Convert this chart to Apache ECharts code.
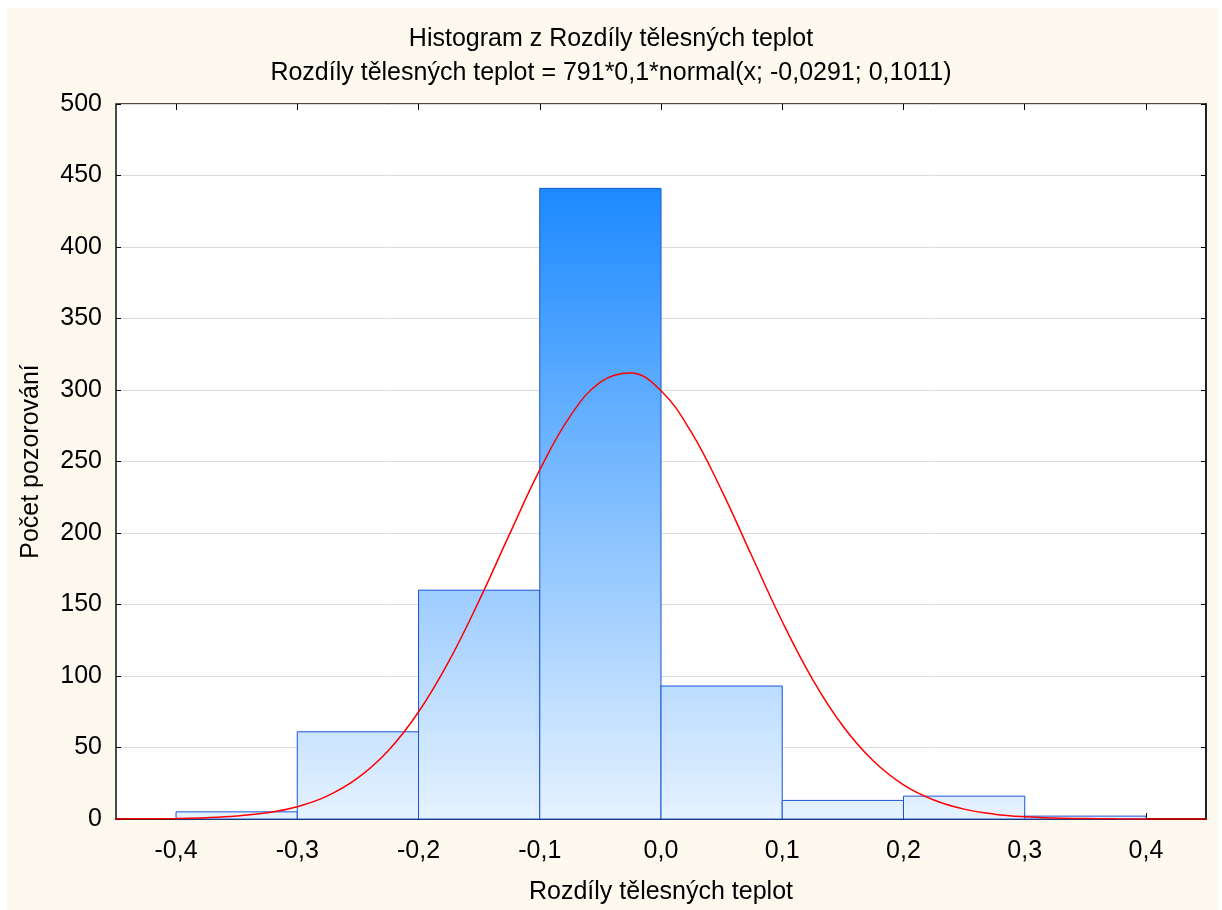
<!DOCTYPE html>
<html>
<head>
<meta charset="utf-8">
<script src="https://cdn.jsdelivr.net/npm/echarts@6/dist/echarts.min.js"></script>
<style>
html,body{margin:0;padding:0;background:#ffffff;overflow:hidden;}
#wrap{position:absolute;left:7px;top:8px;width:1211px;height:902px;background:#fef9ef;}
#chart{position:absolute;left:0;top:0;width:1222px;height:910px;}
</style>
</head>
<body>
<div id="wrap"></div>
<div id="chart"></div>
<script>
// ---- data ----
const titleText = "Histogram z Rozdíly tělesných teplot";
const subtitleText = "Rozdíly tělesných teplot = 791*0,1*normal(x; -0,0291; 0,1011)";
const xAxisName = "Rozdíly tělesných teplot";
const yAxisName = "Počet pozorování";
const binStarts = [-0.4, -0.3, -0.2, -0.1, 0.0, 0.1, 0.2, 0.3];
const binEnds   = [-0.3, -0.2, -0.1, 0.0, 0.1, 0.2, 0.3, 0.4];
const counts    = [5, 61, 160, 441, 93, 13, 16, 2];
const xTicks = [-0.4, -0.3, -0.2, -0.1, 0.0, 0.1, 0.2, 0.3, 0.4];
const curveX = [-0.45,-0.425,-0.4,-0.375,-0.35,-0.325,-0.3,-0.275,-0.25,-0.225,-0.2,-0.175,-0.15,-0.125,-0.1,-0.075,-0.05,-0.025,0,0.025,0.05,0.075,0.1,0.125,0.15,0.175,0.2,0.225,0.25,0.275,0.3,0.325,0.35,0.375,0.4,0.425,0.45];
const curveY = [0.05,0.15,0.37,0.89,2.03,4.3,8.6,16.2,28.7,47.7,74.8,110.2,152.7,199.0,244.1,281.6,305.5,311.9,299.5,270.5,229.8,183.7,138.1,97.7,65.0,40.7,23.9,13.3,6.9,3.4,1.56,0.68,0.28,0.11,0.04,0.01,0.0];

const X_MIN = -0.4495, X_MAX = 0.4495;
const fmt = v => (Math.round(v*10)/10).toFixed(1).replace('.', ',');

const chart = echarts.init(document.getElementById('chart'), null, {renderer:'canvas', width: 1222, height: 910});
const barData = binStarts.map((s,i)=>[s, binEnds[i], counts[i]]);
const curveData = curveX.map((x,i)=>[x, curveY[i]]);
const maxCount = Math.max(...counts);
const font = 'Liberation Sans, Arial, sans-serif';
const FS = 25;

const option = {
  backgroundColor: 'transparent',
  animation: false,
  title: {
    text: titleText,
    subtext: subtitleText,
    left: 'center',
    top: 20,
    itemGap: 6,
    textStyle: {fontFamily: font, fontSize: FS, fontWeight: 'normal', color: '#000', lineHeight: 28},
    subtextStyle: {fontFamily: font, fontSize: FS, color: '#000', lineHeight: 28}
  },
  grid: {left: 116, right: 16, top: 104, bottom: 87, show: true, backgroundColor: '#fff', borderColor: '#111', borderWidth: 1.5, containLabel: false},
  xAxis: [{
    type: 'value', min: X_MIN, max: X_MAX,
    name: xAxisName, nameLocation: 'middle', nameGap: 61,
    nameTextStyle: {fontFamily: font, fontSize: FS, color: '#000'},
    axisLine: {show: true, onZero: false, lineStyle: {color: '#222', width: 2}},
    splitLine: {show: false},
    axisTick: {show: true, inside: true, length: 6, lineStyle: {color: '#000'}, customValues: xTicks},
    axisLabel: {fontFamily: font, fontSize: FS, color: '#000', margin: 20, customValues: xTicks, formatter: fmt}
  },{
    type: 'value', min: X_MIN, max: X_MAX, position: 'top',
    axisLine: {show: false, onZero: false}, splitLine: {show: false},
    axisTick: {show: true, inside: true, length: 6, lineStyle: {color: '#000'}, customValues: xTicks},
    axisLabel: {show: false}
  }],
  yAxis: [{
    type: 'value', min: 0, max: 500, interval: 50,
    name: yAxisName, nameLocation: 'middle', nameGap: 72, nameRotate: 90,
    nameTextStyle: {fontFamily: font, fontSize: FS, color: '#000'},
    axisLine: {show: false, onZero: false},
    splitLine: {show: true, lineStyle: {color: '#dcdcdc', width: 1}},
    axisTick: {show: true, inside: true, length: 5, lineStyle: {color: '#000'}},
    axisLabel: {fontFamily: font, fontSize: FS, color: '#000', margin: 14}
  },{
    type: 'value', min: 0, max: 500, interval: 50, position: 'right',
    axisLine: {show: true, onZero: false, lineStyle: {color: '#222', width: 2}}, splitLine: {show: false},
    axisTick: {show: true, inside: true, length: 5, lineStyle: {color: '#000'}},
    axisLabel: {show: false}
  }],
  series: [{
    type: 'custom',
    data: barData,
    xAxisIndex: 0, yAxisIndex: 0,
    renderItem: function(params, api){
      const p0 = api.coord([api.value(0), api.value(2)]);
      const p1 = api.coord([api.value(1), 0]);
      const yTop = api.coord([0, maxCount])[1];
      const yBot = api.coord([0, 0])[1];
      return {
        type: 'rect',
        shape: {x: p0[0], y: p0[1], width: p1[0]-p0[0], height: p1[1]-p0[1]},
        style: {
          fill: new echarts.graphic.LinearGradient(0, yTop, 0, yBot, [
            {offset: 0, color: '#1c8aff'},
            {offset: 1, color: '#e6f2ff'}
          ], true),
          stroke: '#1a55d8',
          lineWidth: 1
        }
      };
    },
    z: 2
  },{
    type: 'line',
    data: curveData,
    smooth: 0.4,
    showSymbol: false,
    symbol: 'none',
    clip: true,
    lineStyle: {color: '#ff0000', width: 1.5},
    z: 3
  }]
};
chart.setOption(option);
</script>
</body>
</html>
